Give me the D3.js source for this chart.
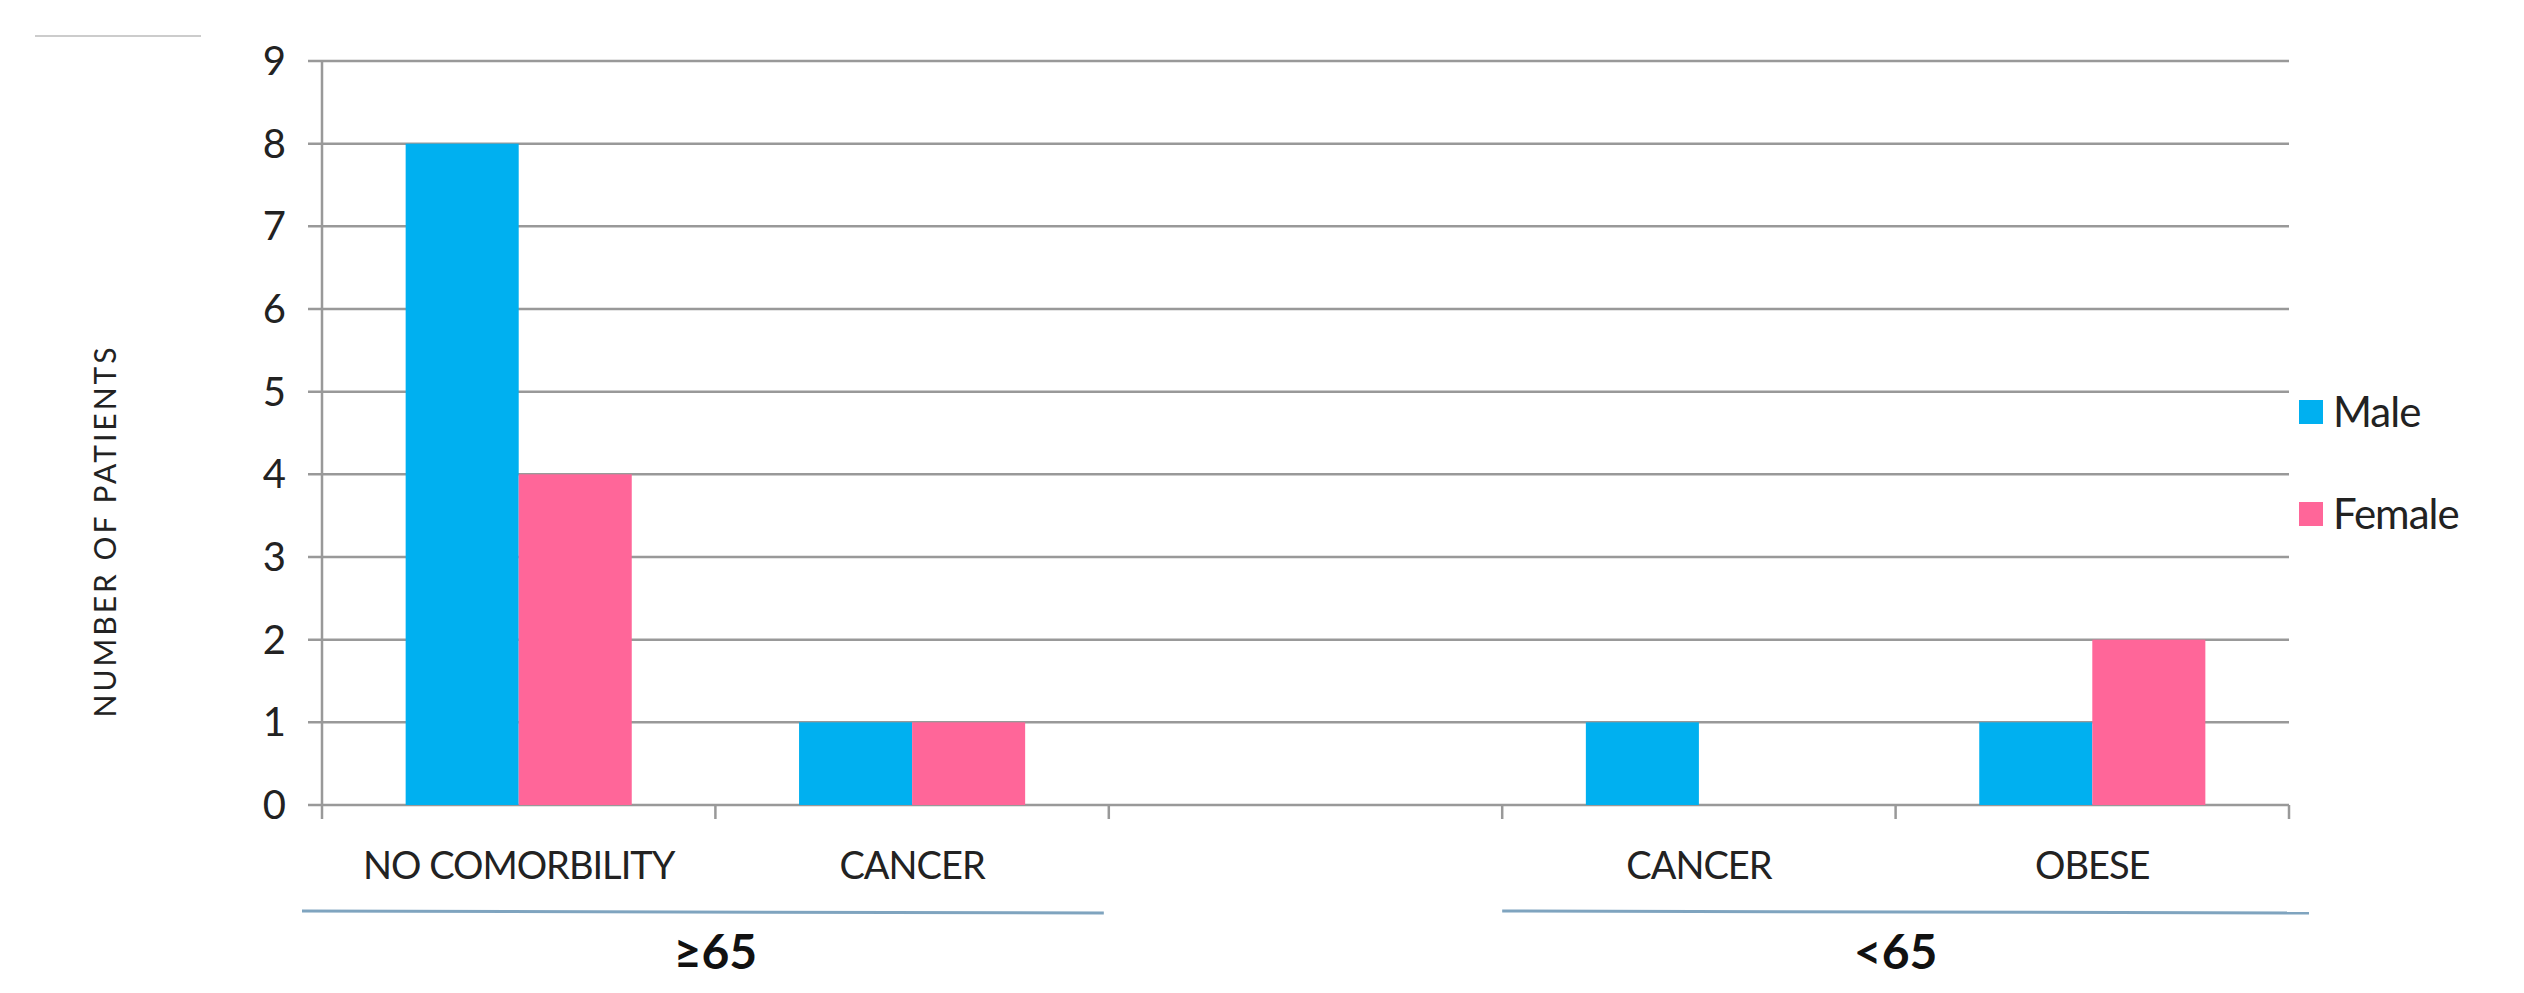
<!DOCTYPE html>
<html><head><meta charset="utf-8">
<script src="https://cdn.jsdelivr.net/npm/d3@7"></script>
<style>body{margin:0;background:#fff}svg{display:block;font-family:Lato,"Open Sans",sans-serif}</style>
</head><body><svg id="c" width="2524" height="993"></svg>
<script>
const categories = ["NO COMORBILITY","CANCER","","CANCER","OBESE"];
const slotIds = ["a","b","gap","c","d"];
const maleValues = [8,1,null,1,1];
const femaleValues = [4,1,null,0,2];
const seriesNames = ["Male","Female"];
const seriesColors = ["#00B0F0","#FF6699"];
const yTicks = [0,1,2,3,4,5,6,7,8,9];
const groups = [{label:"≥65",from:0,to:1,e0:20,e1:-5},{label:"<65",from:3,to:4,e0:0,e1:20}];

const svg = d3.select("#c");
const L=322,R=2289,T=61,B=805;
const x = d3.scaleBand().domain(slotIds).range([L,R]);
const xi = d3.scaleBand().domain(seriesNames).range([0,x.bandwidth()]).paddingInner(0).paddingOuter(0.74);
const y = d3.scaleLinear().domain([0,9]).range([B,T]);

svg.append("g").selectAll("line").data(yTicks).join("line")
  .attr("x1",L-14).attr("x2",R).attr("y1",d=>y(d)).attr("y2",d=>y(d))
  .attr("stroke","#999").attr("stroke-width",2.5);
svg.append("line").attr("x1",L).attr("x2",L).attr("y1",T).attr("y2",B).attr("stroke","#999").attr("stroke-width",2.5);
svg.append("g").selectAll("text").data(yTicks).join("text")
  .attr("x",L-36).attr("y",d=>y(d)).attr("dy","0.35em").attr("text-anchor","end")
  .attr("font-size",40).attr("fill","#222").text(d=>d);
const tickXs = slotIds.map(s=>x(s)).concat([R]);
svg.append("g").selectAll("line").data(tickXs).join("line")
  .attr("x1",d=>d).attr("x2",d=>d).attr("y1",B).attr("y2",B+14).attr("stroke","#999").attr("stroke-width",2.5);
const data = [];
slotIds.forEach((s,i)=>{
  [maleValues[i],femaleValues[i]].forEach((v,j)=>{ if(v) data.push({s,name:seriesNames[j],v,c:seriesColors[j]}); });
});
svg.append("g").selectAll("rect").data(data).join("rect")
  .attr("x",d=>x(d.s)+xi(d.name)).attr("width",xi.bandwidth())
  .attr("y",d=>y(d.v)).attr("height",d=>B-y(d.v)).attr("fill",d=>d.c);
svg.append("g").selectAll("text").data(categories).join("text")
  .attr("x",(d,i)=>x(slotIds[i])+x.bandwidth()/2).attr("y",866).attr("dy","0.35em")
  .attr("text-anchor","middle").attr("font-size",38).attr("fill","#222").attr("letter-spacing",-1).text(d=>d);
groups.forEach(g=>{
  const x0=x(slotIds[g.from])-g.e0, x1=x(slotIds[g.to])+x.bandwidth()+g.e1;
  svg.append("line").attr("x1",x0).attr("x2",x1).attr("y1",911).attr("y2",913).attr("stroke","#7fa4bf").attr("stroke-width",3);
  svg.append("text").attr("x",(x(slotIds[g.from])+x(slotIds[g.to])+x.bandwidth())/2).attr("y",952).attr("dy","0.35em")
    .attr("text-anchor","middle").attr("font-size",48).attr("font-weight","bold").attr("fill","#111").text(g.label);
});
svg.append("text").attr("transform","translate(105,531) rotate(-90)").attr("text-anchor","middle").attr("dy","0.35em")
  .attr("font-size",30).attr("fill","#222").attr("letter-spacing",3).text("NUMBER OF PATIENTS");
svg.append("line").attr("x1",35).attr("x2",201).attr("y1",36).attr("y2",36).attr("stroke","#ccc").attr("stroke-width",2);
const leg = svg.append("g").selectAll("g").data(seriesNames).join("g")
  .attr("transform",(d,i)=>`translate(2299,${412+i*102})`);
leg.append("rect").attr("x",0).attr("y",-12).attr("width",24).attr("height",24).attr("fill",(d,i)=>seriesColors[i]);
leg.append("text").attr("x",34).attr("dy","0.35em").attr("font-size",42).attr("fill","#222").attr("letter-spacing",-1).text(d=>d);
</script></body></html>
